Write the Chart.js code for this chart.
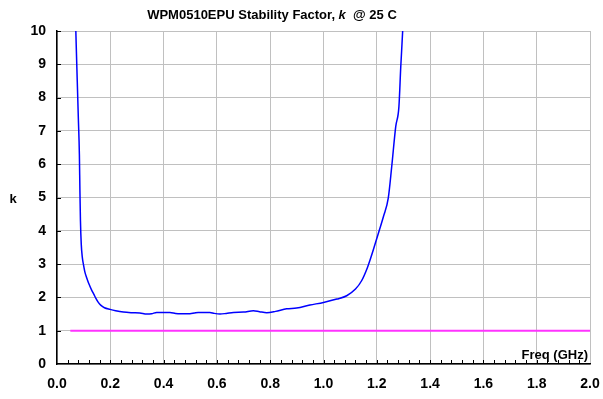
<!DOCTYPE html>
<html>
<head>
<meta charset="utf-8">
<script src="https://cdn.jsdelivr.net/npm/chart.js@4"></script>
<style>
  html, body { margin: 0; padding: 0; background: #fff; }
  #wrap { width: 603px; height: 399px; }
</style>
</head>
<body>
<div id="wrap"><canvas id="kchart"></canvas></div>
<script>
// stability factor k vs frequency (GHz)
var kFreq = [0.068, 0.072, 0.076, 0.080, 0.084, 0.086, 0.088, 0.091, 0.095, 0.099,
             0.105, 0.111, 0.120, 0.130, 0.138, 0.146, 0.155, 0.165, 0.178, 0.199,
             0.220, 0.249, 0.280, 0.311, 0.337, 0.355, 0.374, 0.400, 0.424, 0.445,
             0.462, 0.499, 0.515, 0.530, 0.574, 0.590, 0.612, 0.635, 0.662, 0.700,
             0.737, 0.760, 0.787, 0.820, 0.862, 0.899, 0.949, 1.000, 1.050, 1.087,
             1.120, 1.143, 1.165, 1.175, 1.187, 1.210, 1.225, 1.243, 1.256, 1.271,
             1.283, 1.290, 1.297, 1.300];
var kVals = [10.8, 9.6, 8.5, 7.4, 6.3, 5.2, 4.3, 3.6, 3.2, 3.0,
             2.75, 2.6, 2.4, 2.22, 2.1, 1.97, 1.85, 1.76, 1.69, 1.64,
             1.60, 1.56, 1.54, 1.53, 1.50, 1.51, 1.55, 1.55, 1.55, 1.52,
             1.51, 1.51, 1.53, 1.55, 1.55, 1.52, 1.50, 1.52, 1.55, 1.56,
             1.60, 1.57, 1.54, 1.58, 1.66, 1.68, 1.77, 1.85, 1.95, 2.05,
             2.25, 2.5, 2.9, 3.13, 3.43, 4.03, 4.43, 4.98, 5.93, 7.13,
             7.73, 8.94, 9.99, 10.6];

// k = 1 reference line
var refFreq = [0.05, 2.0];
var refK = [1, 1];

var xTicks = ['0.0', '0.2', '0.4', '0.6', '0.8', '1.0', '1.2', '1.4', '1.6', '1.8', '2.0'];
var yTicks = ['0', '1', '2', '3', '4', '5', '6', '7', '8', '9', '10'];

var FONT = 'Liberation Sans, Arial, sans-serif';

function pts(xs, ys) {
  return xs.map(function(x, i) { return { x: x, y: ys[i] }; });
}

// title (mixed bold / bold italic), axis labels, inside tick marks
var extras = {
  id: 'extras',
  afterDraw: function(chart) {
    var ctx = chart.ctx;
    var area = chart.chartArea;
    var sx = chart.scales.x, sy = chart.scales.y;
    ctx.save();
    ctx.fillStyle = '#000';
    ctx.textBaseline = 'middle';

    // title
    var parts = [
      ['bold 13px ' + FONT, 'WPM0510EPU Stability Factor, '],
      ['italic bold 13px ' + FONT, 'k'],
      ['bold 13px ' + FONT, '  @ 25 C']
    ];
    var total = 0;
    parts.forEach(function(p) { ctx.font = p[0]; total += ctx.measureText(p[1]).width; });
    var tx = 272 - total / 2;
    ctx.textAlign = 'left';
    parts.forEach(function(p) {
      ctx.font = p[0];
      ctx.fillText(p[1], tx, 15);
      tx += ctx.measureText(p[1]).width;
    });

    // y axis title
    ctx.font = 'bold 13px ' + FONT;
    ctx.textAlign = 'center';
    ctx.fillText('k', 13, (area.top + area.bottom) / 2 + 2);

    // x axis title inside plot
    ctx.textAlign = 'right';
    ctx.textBaseline = 'alphabetic';
    ctx.fillText('Freq (GHz)', area.right - 2, area.bottom - 5);

    // inside tick marks
    ctx.strokeStyle = '#000';
    ctx.lineWidth = 1;
    ctx.beginPath();
    for (var i = 1; i < 50; i++) {
      var px = Math.round(sx.getPixelForValue(i * 0.04)) + 0.5;
      ctx.moveTo(px, area.bottom);
      ctx.lineTo(px, area.bottom - 4);
    }
    for (var j = 1; j <= 10; j++) {
      var py = Math.round(sy.getPixelForValue(j)) + 0.5;
      ctx.moveTo(area.left, py);
      ctx.lineTo(area.left + 4, py);
    }
    ctx.stroke();
    ctx.restore();
  }
};

var chart = new Chart(document.getElementById('kchart'), {
  type: 'line',
  data: {
    datasets: [{
      data: pts(kFreq, kVals),
      borderColor: '#0000ff',
      borderWidth: 1.5,
      pointRadius: 0,
      cubicInterpolationMode: 'monotone',
      fill: false
    }, {
      data: pts(refFreq, refK),
      borderColor: '#ff33ff',
      borderWidth: 2,
      pointRadius: 0,
      fill: false
    }]
  },
  options: {
    responsive: true,
    maintainAspectRatio: false,
    animation: false,
    events: [],
    layout: { padding: { top: 31, right: 13, left: 0, bottom: 0 } },
    plugins: {
      legend: { display: false },
      tooltip: { enabled: false },
      title: { display: false }
    },
    scales: {
      x: {
        type: 'linear',
        min: 0,
        max: 2,
        afterFit: function(scale) {
          scale.height = 35;
          scale.paddingLeft = 0;
          scale.paddingRight = 0;
        },
        afterBuildTicks: function(scale) {
          scale.ticks = xTicks.map(function(t) { return { value: parseFloat(t) }; });
        },
        ticks: {
          color: '#000',
          font: { family: FONT, size: 14, weight: 'bold' },
          padding: 12,
          maxRotation: 0,
          callback: function(v) { return xTicks[Math.round(v * 5)]; }
        },
        grid: { color: '#c0c0c0', drawTicks: false },
        border: { color: '#000', width: 1.5 }
      },
      y: {
        min: 0,
        max: 10,
        afterFit: function(scale) {
          scale.width = 57;
          scale.paddingTop = 0;
          scale.paddingBottom = 0;
        },
        afterBuildTicks: function(scale) {
          scale.ticks = yTicks.map(function(t) { return { value: parseFloat(t) }; });
        },
        ticks: {
          color: '#000',
          font: { family: FONT, size: 14, weight: 'bold' },
          padding: 11,
          callback: function(v) { return yTicks[Math.round(v)]; }
        },
        grid: { color: '#c0c0c0', drawTicks: false },
        border: { color: '#000', width: 1.5 }
      }
    }
  },
  plugins: [extras]
});
</script>
</body>
</html>
